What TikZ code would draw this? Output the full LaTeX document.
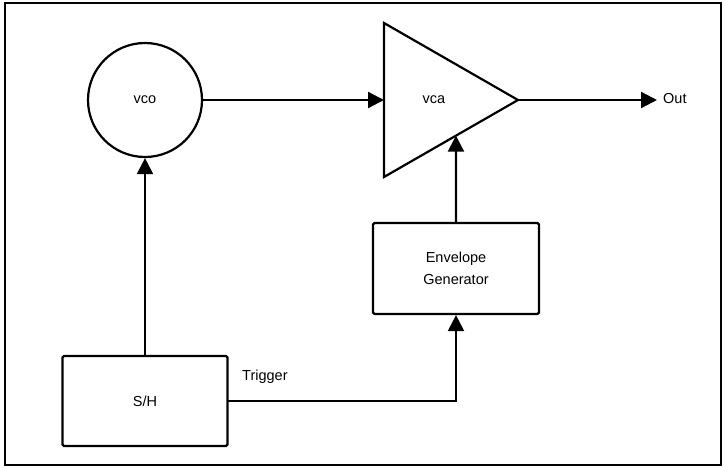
\documentclass[tikz,border=0pt]{standalone}
\usepackage{fontspec}
\setmainfont{Liberation Sans}
\usetikzlibrary{arrows.meta}
\begin{document}
\begin{tikzpicture}[x=1pt,y=-1pt,
  wire/.style={line width=2.2pt,line cap=rect},
  arr/.style={wire,-{Triangle[length=16pt,width=16pt]}},
  block/.style={draw,line width=2.2pt,rounded corners=1.5pt,inner sep=0pt,font=\fontsize{14.5}{22}\selectfont,align=center},
  lbl/.style={font=\fontsize{14.5}{17}\selectfont,inner sep=0pt}]
\useasboundingbox (0,0) rectangle (725,468);
\draw[line width=2.6pt] (5,3) rectangle (721,465);
% VCO
\node[block,circle,minimum size=114pt] (vco) at (145,100) {vco};
% VCA triangle
\coordinate (vtop) at (384,23);
\coordinate (vbot) at (384,177);
\coordinate (vapex) at (518,100);
\draw[line width=2.2pt,line join=miter] (vtop) -- (vapex) -- (vbot) -- cycle;
\node[lbl] (vca) at (434,100) {vca};
\coordinate (vleft) at (384,100);
\path (vbot) -- (vapex) coordinate[pos=0.537] (vin);
% Envelope generator
\node[block,minimum width=166pt,minimum height=91pt] (env) at (456,268.5) {Envelope\\Generator};
% S/H
\node[block,minimum width=165pt,minimum height=90pt] (sh) at (145,401) {S/H};
% Out
\coordinate (outend) at (657,100);
\node[lbl,anchor=west] (out) at (663,99) {Out};
% Trigger label
\node[lbl,anchor=west] (trig) at (242,377) {Trigger};
% connectors
\draw[arr] (vco.east) -- (vleft);
\draw[arr] (vapex) -- (outend);
\draw[arr] (env.north) -- (vin);
\draw[arr] (sh.north) -- (vco.south);
\draw[arr] (sh.east) -| (env.south);
\end{tikzpicture}
\end{document}
